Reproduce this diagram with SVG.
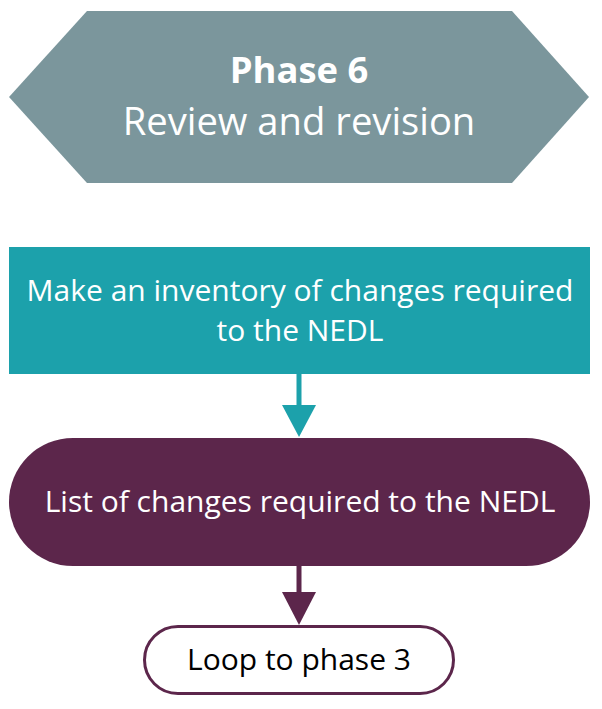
<svg xmlns="http://www.w3.org/2000/svg" width="602" height="709" viewBox="0 0 602 709">
<style>
.t{font-family:"Open Sans","Liberation Sans",sans-serif;text-anchor:middle;fill:#ffffff}
.b{font-size:30px}
.k{fill:#000000}
</style>
<rect width="602" height="709" fill="#ffffff"/>
<g id="phase6">
<polygon points="87,11 512,11 589,97 512,183 87,183 9,97" fill="#7B969C"/>
<text class="t" x="299" y="83" font-size="36.4" font-weight="bold">Phase 6</text>
<text class="t" x="299" y="135" font-size="38.2">Review and revision</text>
</g>
<g id="inventory">
<rect x="9" y="247" width="581" height="127" fill="#1CA1AB"/>
<text class="t b" x="300" y="301">Make an inventory of changes required</text>
<text class="t b" x="300" y="341">to the NEDL</text>
</g>
<g id="list">
<rect x="9" y="438" width="581" height="128" rx="64" ry="64" fill="#5C264B"/>
<text class="t b" x="300" y="512">List of changes required to the NEDL</text>
</g>
<g id="loop">
<rect x="144.5" y="626.5" width="309" height="67" rx="33.5" ry="33.5" fill="#ffffff" stroke="#5C264B" stroke-width="3"/>
<text class="t k b" x="299" y="670">Loop to phase 3</text>
</g>
<g id="connectors">
<line x1="299" y1="374" x2="299" y2="410" stroke="#1CA1AB" stroke-width="5"/>
<polygon points="282,405 316,405 299,437" fill="#1CA1AB"/>
<line x1="299" y1="566" x2="299" y2="596" stroke="#5C264B" stroke-width="5"/>
<polygon points="282,592 316,592 299,625" fill="#5C264B"/>
</g>
</svg>
